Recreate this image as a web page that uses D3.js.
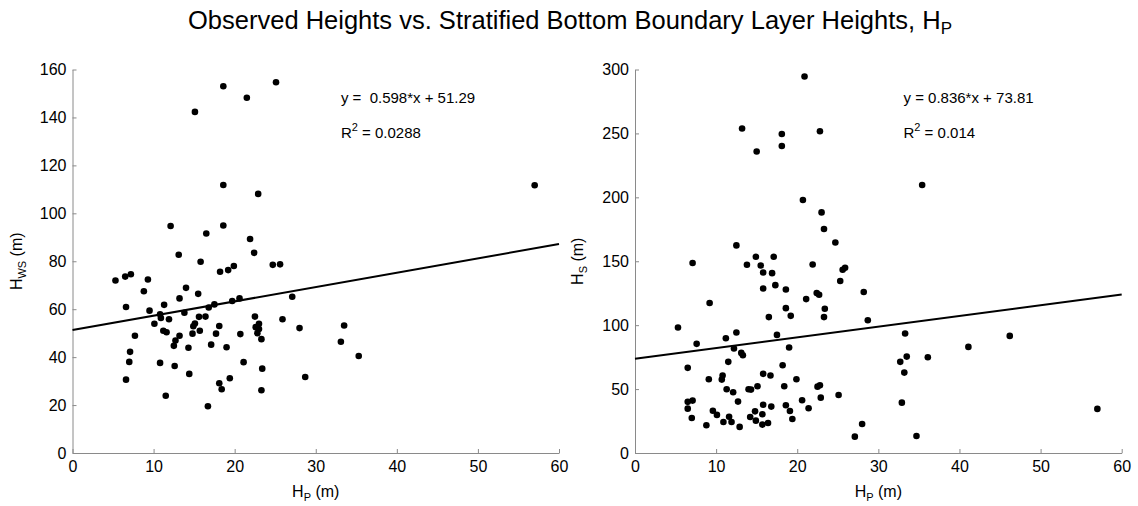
<!DOCTYPE html>
<html>
<head>
<meta charset="utf-8">
<script src="https://cdn.jsdelivr.net/npm/d3@7"></script>
<style>
  html, body { margin: 0; padding: 0; background: #fff; }
  svg { display: block; font-family: "Liberation Sans", Arial, Helvetica, sans-serif; }
</style>
</head>
<body>
<svg id="chart" width="1138" height="506"></svg>
<script>
// Observed boundary-layer heights against the stratified estimate H_P (m)
const hpWS = [18.6,21.5,25.1,15.1,18.6,22.9,12.1,18.6,16.5,21.9,13.1,22.4,
  5.3,6.5,7.2,9.3,15.8,18.2,19.2,19.9,24.7,25.6,8.8,14.0,15.5,13.2,20.6,19.7,17.5,16.8,11.3,27.1,
  6.6,9.5,13.8,10.8,10.9,11.9,15.6,16.4,22.5,10.1,15.1,14.9,18.1,23.0,22.6,23.0,25.9,28.0,
  11.2,11.6,15.7,14.8,17.7,20.7,22.8,7.7,13.2,12.7,12.5,14.3,17.1,19.0,23.3,7.1,7.0,10.8,21.1,
  12.6,14.4,23.4,28.7,19.4,6.6,18.1,18.4,23.3,11.5,16.7,57.0,33.5,33.1,35.3];
const hWS = [153.0,148.2,154.7,142.3,111.8,108.1,94.7,94.9,91.6,89.3,82.7,83.5,
  72.0,73.6,74.6,72.4,79.8,75.6,76.3,78.0,78.5,78.7,67.5,68.9,66.4,64.5,64.5,63.4,62.0,60.7,61.8,65.2,
  60.9,59.4,58.5,57.9,56.3,55.8,56.8,56.9,56.9,53.9,54.0,52.9,53.0,53.9,52.5,51.7,55.8,52.1,
  51.0,50.4,51.0,49.8,49.8,49.6,50.0,48.9,48.9,46.9,44.7,43.9,45.2,44.1,47.5,42.2,38.0,37.6,37.9,
  36.3,33.0,35.2,31.7,31.2,30.6,29.1,26.6,26.2,23.9,19.5,111.7,53.2,46.4,40.5];

const hpS = [20.9,13.2,18.1,22.8,15.0,18.1,20.7,23.0,23.3,24.7,12.5,14.9,17.1,
  7.1,13.8,15.5,15.8,16.9,17.3,15.8,18.6,21.9,21.1,22.4,22.7,23.4,23.3,25.3,25.6,25.9,18.6,19.2,16.5,
  9.2,5.3,12.5,17.5,11.2,7.6,19.0,12.2,13.1,13.3,11.5,6.5,18.2,10.8,10.7,15.8,16.7,9.1,19.9,
  11.3,14.0,14.3,15.1,18.4,22.5,22.8,12.1,22.9,25.1,6.5,7.1,12.7,20.6,6.5,15.8,18.6,21.4,16.8,
  9.6,10.1,14.8,19.1,15.7,7.0,11.6,14.2,19.4,10.9,11.9,14.9,16.4,8.8,12.9,15.7,27.1,
  35.4,28.2,28.7,33.3,46.2,41.1,33.5,36.1,32.7,33.2,32.9,57.0,28.0,34.7];
const hS = [294.5,253.8,249.6,251.7,235.8,240.2,197.9,188.2,175.2,164.7,162.4,153.5,153.5,
  148.6,147.3,146.7,141.2,140.7,131.3,128.7,127.9,147.5,120.4,125.1,123.8,112.8,106.3,134.5,143.3,144.9,113.3,107.3,106.3,
  117.3,98.2,94.3,92.4,89.8,85.4,82.5,81.7,78.3,76.5,71.3,66.6,68.7,60.6,57.4,61.9,60.6,57.7,57.7,
  49.9,49.9,49.6,52.2,52.2,51.9,53.0,47.5,43.3,45.4,40.0,41.0,40.2,41.3,34.7,37.8,37.3,35.0,36.3,
  33.1,29.8,32.6,32.9,30.3,27.4,28.4,28.2,26.6,24.3,24.3,25.3,23.5,21.7,20.4,22.2,12.8,
  209.7,125.9,103.9,93.5,91.6,83.0,75.4,74.9,71.3,62.9,39.4,34.5,22.7,13.3];

// Least-squares fits quoted on each panel: [slope, intercept, R^2]
const fitWS = [0.598, 51.29, 0.0288];
const fitS = [0.836, 73.81, 0.014];

const xTicks = [0, 10, 20, 30, 40, 50, 60];
const yTicksWS = [0, 20, 40, 60, 80, 100, 120, 140, 160];
const yTicksS = [0, 50, 100, 150, 200, 250, 300];

const svg = d3.select("#chart");

svg.append("text")
  .attr("x", 570).attr("y", 28.5)
  .attr("text-anchor", "middle")
  .attr("font-size", 25.5)
  .attr("fill", "#000")
  .call(t => {
    t.append("tspan").text("Observed Heights vs. Stratified Bottom Boundary Layer Heights, H");
    t.append("tspan").attr("font-size", 17).attr("dy", 5).text("P");
  });

function panel(opts) {
  const { left, right, top, bottom, xs, ys, yMax, yTicks, fit, eqText, ySub, yLabelX } = opts;
  const x = d3.scaleLinear().domain([0, 60]).range([left, right]);
  const y = d3.scaleLinear().domain([0, yMax]).range([bottom, top]);
  const g = svg.append("g");

  const xAxis = d3.axisBottom(x).tickValues(xTicks).tickSizeInner(-4).tickSizeOuter(0).tickPadding(8);
  const yAxis = d3.axisLeft(y).tickValues(yTicks).tickSizeInner(-4).tickSizeOuter(0).tickPadding(6);

  const gx = g.append("g").attr("transform", `translate(0,${bottom})`).call(xAxis);
  const gy = g.append("g").attr("transform", `translate(${left},0)`).call(yAxis);
  [gx, gy].forEach(a => {
    a.selectAll("path.domain").attr("stroke", "#8a8a8a");
    a.selectAll(".tick line").attr("stroke", "#8a8a8a");
    a.selectAll(".tick text").attr("font-size", 16).attr("fill", "#000")
      .attr("font-family", "Liberation Sans, Arial, sans-serif");
  });

  // Regression line across the full x range
  const [m, b, r2] = fit;
  g.append("line")
    .attr("x1", x(0)).attr("y1", y(b))
    .attr("x2", x(60)).attr("y2", y(m * 60 + b))
    .attr("stroke", "#000").attr("stroke-width", 2);

  g.append("g").selectAll("circle")
    .data(xs.map((v, i) => [v, ys[i]]))
    .join("circle")
    .attr("cx", d => x(d[0])).attr("cy", d => y(d[1]))
    .attr("r", 3.3).attr("fill", "#000");

  // Fit annotation
  const ax = x(eqText.at);
  g.append("text").attr("x", ax).attr("y", 103).attr("font-size", 15).attr("fill", "#000")
    .attr("xml:space", "preserve").style("white-space", "pre")
    .text(eqText.label);
  const rt = g.append("text").attr("x", ax).attr("y", 138).attr("font-size", 15).attr("fill", "#000");
  rt.append("tspan").text("R");
  rt.append("tspan").attr("font-size", 11).attr("dy", -7).text("2");
  rt.append("tspan").attr("dy", 7).text(" = " + r2);

  // x label
  const xl = g.append("text").attr("x", (left + right) / 2).attr("y", 497)
    .attr("text-anchor", "middle").attr("font-size", 16).attr("fill", "#000");
  xl.append("tspan").text("H");
  xl.append("tspan").attr("font-size", 11).attr("dy", 4).text("P");
  xl.append("tspan").attr("dy", -4).text(" (m)");

  // y label
  const yl = g.append("text")
    .attr("transform", `translate(${yLabelX},${(top + bottom) / 2}) rotate(-90)`)
    .attr("text-anchor", "middle").attr("font-size", 16).attr("fill", "#000");
  yl.append("tspan").text("H");
  yl.append("tspan").attr("font-size", 11).attr("dy", 4).text(ySub);
  yl.append("tspan").attr("dy", -4).text(" (m)");
}

panel({
  left: 72.5, right: 559, top: 69.5, bottom: 453,
  xs: hpWS, ys: hWS, yMax: 160, yTicks: yTicksWS, fit: fitWS,
  eqText: { at: 33.1, label: "y =  " + fitWS[0] + "*x + " + fitWS[1] },
  ySub: "WS", yLabelX: 22
});

panel({
  left: 635, right: 1121.7, top: 69.5, bottom: 453,
  xs: hpS, ys: hS, yMax: 300, yTicks: yTicksS, fit: fitS,
  eqText: { at: 33.1, label: "y = " + fitS[0] + "*x + " + fitS[1] },
  ySub: "S", yLabelX: 583
});
</script>
</body>
</html>
